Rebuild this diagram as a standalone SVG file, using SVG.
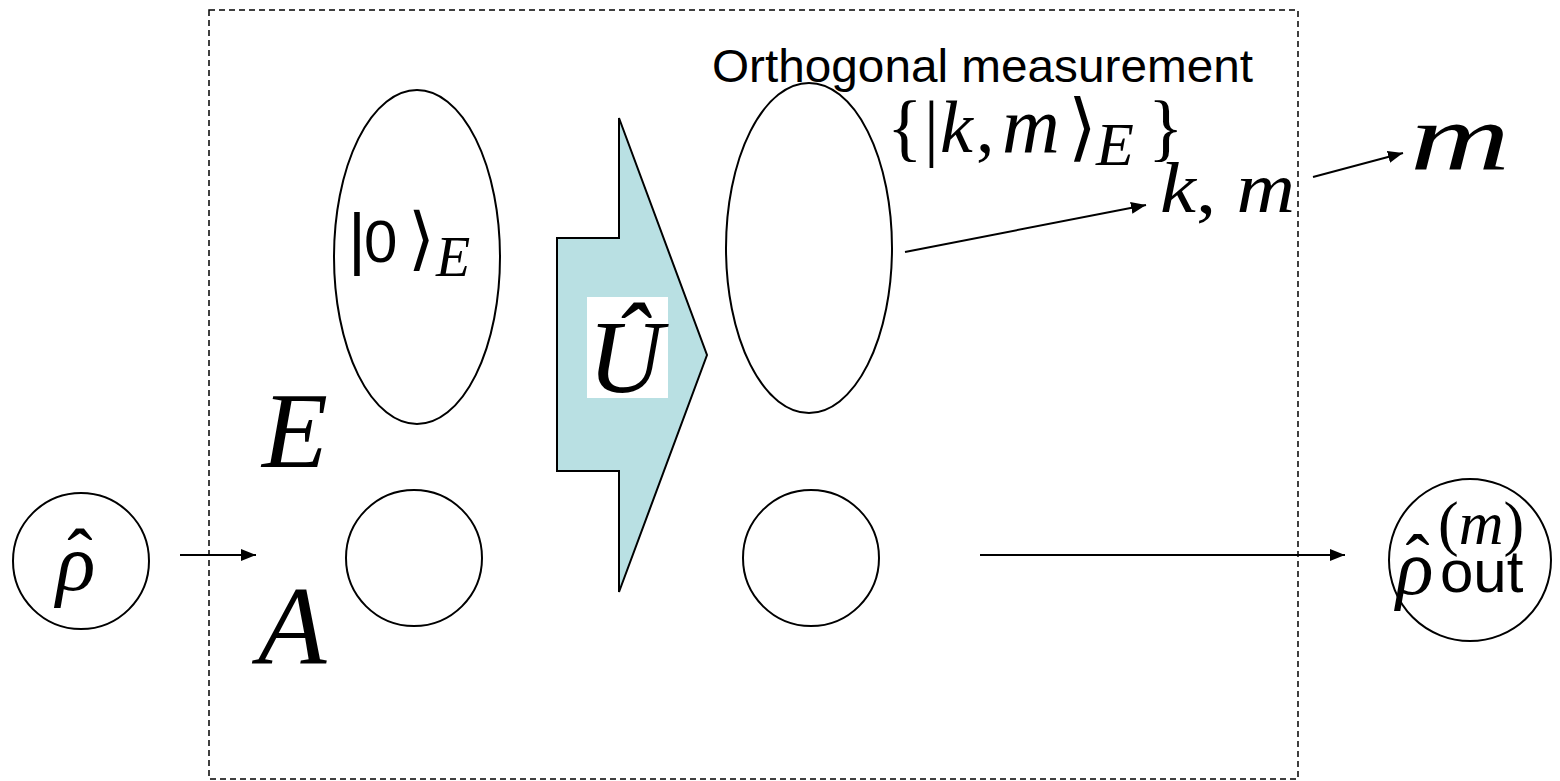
<svg xmlns="http://www.w3.org/2000/svg" width="1560" height="781" viewBox="0 0 1560 781">
<defs>
<style>
.ln{stroke:#000;stroke-width:2;fill:none}
.sh{stroke:#000;stroke-width:2;fill:#fff}
.math{font-family:"Liberation Serif","DejaVu Serif",serif;font-style:italic;fill:#000}
.rm{font-family:"Liberation Serif","DejaVu Serif",serif;font-style:normal;fill:#000}
.sans{font-family:"Liberation Sans",Arial,sans-serif;font-style:normal;fill:#000}
</style>
<marker id="ahb" viewBox="0 0 10 10" refX="10" refY="5" markerWidth="15" markerHeight="12" markerUnits="userSpaceOnUse" orient="auto" preserveAspectRatio="none">
<path d="M0,0 L10,5 L0,10 z" fill="#000"/>
</marker>
</defs>
<rect width="1560" height="781" fill="#fff"/>
<g id="box">
<rect x="209" y="10" width="1089" height="769" fill="none" stroke="#000" stroke-width="1.5" stroke-dasharray="6,4"/>
</g>
<g id="connectors">
<line x1="180" y1="555" x2="256" y2="555" class="ln" marker-end="url(#ahb)"/>
<line x1="980" y1="555" x2="1345" y2="555" class="ln" marker-end="url(#ahb)"/>
<line x1="905" y1="252" x2="1146" y2="205" class="ln" marker-end="url(#ahb)"/>
<line x1="1313" y1="177" x2="1403" y2="153" class="ln" marker-end="url(#ahb)"/>
</g>
<g id="rho-in">
<circle cx="81" cy="561" r="68" class="sh"/>
<text x="56" y="590" class="math" font-size="82">ρ<tspan class="rm" font-size="76" dx="-28" dy="-8">ˆ</tspan></text>
</g>
<g id="E-label"><text x="262" y="467" class="math" font-size="108">E</text></g>
<g id="A-label"><text x="258" y="664" class="math" font-size="112">A</text></g>
<g id="E-in">
<ellipse cx="417" cy="257" rx="83" ry="167" class="sh"/>
<text x="348" y="262" class="sans" font-size="69">|<tspan x="364" font-size="60">0</tspan><tspan x="408" class="rm" font-size="69">⟩</tspan><tspan x="436" y="276" class="math" font-size="56">E</tspan></text>
</g>
<g id="A-in"><circle cx="414" cy="558" r="68" class="sh"/></g>
<g id="unitary">
<polygon points="619,118 707,355 619,592 619,471 557,471 557,238 619,238" fill="#b9e0e3" stroke="#000" stroke-width="2"/>
<rect x="587" y="297" width="81" height="101" fill="#fff"/>
<text x="588" y="392" class="math" font-size="104">Û</text>
</g>
<g id="E-out"><ellipse cx="809" cy="248" rx="83" ry="165" class="sh"/></g>
<g id="A-out"><circle cx="811" cy="558" r="68" class="sh"/></g>
<g id="measure">
<text x="712" y="82" class="sans" font-size="46" textLength="541" lengthAdjust="spacingAndGlyphs">Orthogonal measurement</text>
<text x="887" y="152" class="rm" font-size="74">{<tspan x="924">|</tspan><tspan x="940" class="math">k</tspan><tspan x="976">,</tspan><tspan x="1002" class="math" font-size="80">m</tspan><tspan x="1068">⟩</tspan><tspan x="1096" y="165" class="math" font-size="62">E</tspan><tspan x="1148" y="152">}</tspan></text>
</g>
<g id="km"><text x="1160" y="212" class="math" font-size="72" textLength="135" lengthAdjust="spacingAndGlyphs"><tspan>k</tspan><tspan class="rm">, </tspan><tspan>m</tspan></text></g>
<g id="m-out"><text x="1410" y="170" class="math" font-size="96" textLength="100" lengthAdjust="spacingAndGlyphs">m</text></g>
<g id="rho-out">
<circle cx="1470" cy="560" r="81" class="sh"/>
<text x="1396" y="594" class="math" font-size="78">ρ<tspan class="rm" font-size="72" dx="-28" dy="-10">ˆ</tspan><tspan class="rm" font-size="62" x="1438" y="544">(<tspan class="math">m</tspan>)</tspan><tspan class="sans" font-size="60" x="1440" y="592">out</tspan></text>
</g>
</svg>
